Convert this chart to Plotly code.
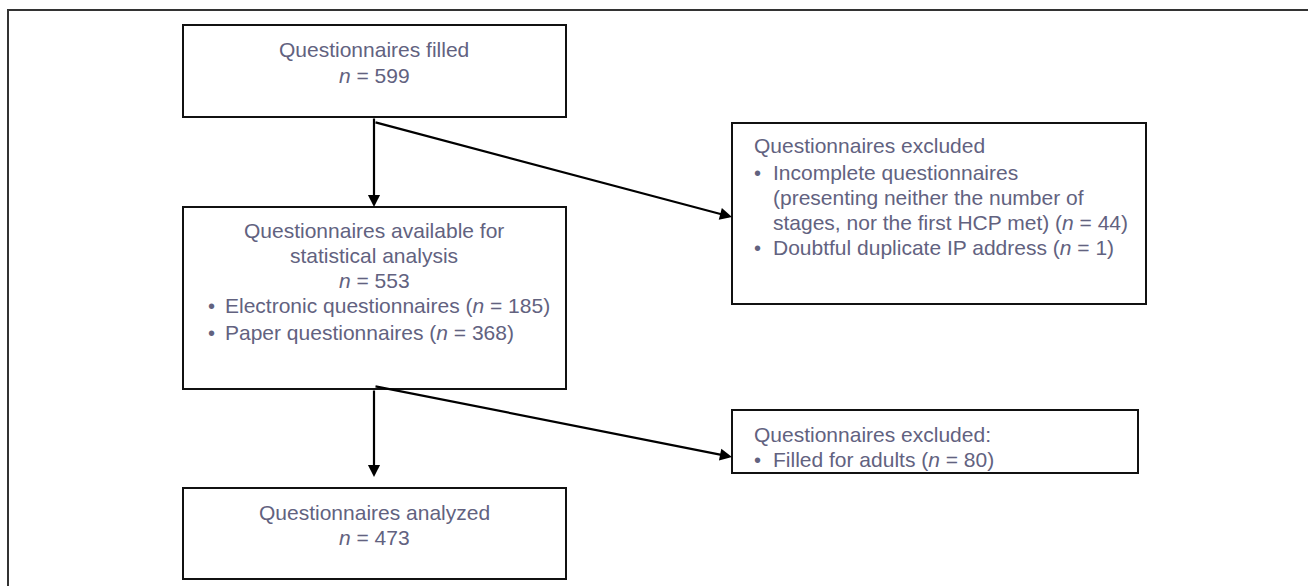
import plotly.graph_objects as go

# ---- data (counts shown in the flow diagram) ----
n_filled = 599
n_available = 553
n_electronic = 185
n_paper = 368
n_incomplete = 44
n_duplicate_ip = 1
n_adults = 80
n_analyzed = 473

W, H = 1308, 586
TXT = "#62627f"
LINE = "#111111"
FONT = "Liberation Sans, Arial, sans-serif"
FS = 21

fig = go.Figure()

# boxes: (x0, y0, x1, y1)
boxes = [
    (183, 25, 566, 117),
    (183, 207, 566, 389),
    (732, 123, 1146, 304),
    (732, 410, 1138, 473),
    (183, 488, 566, 579),
]
shapes = [dict(type="rect", xref="x", yref="y", x0=8, y0=10, x1=1330, y1=600,
               line=dict(color="#333333", width=2), fillcolor="rgba(0,0,0,0)")]
for x0, y0, x1, y1 in boxes:
    shapes.append(dict(type="rect", xref="x", yref="y", x0=x0, y0=y0, x1=x1, y1=y1,
                       line=dict(color=LINE, width=2), fillcolor="white"))

ann = []

def arrow(x0, y0, x1, y1):
    ann.append(dict(x=x1, y=y1, ax=x0, ay=y0, xref="x", yref="y", axref="x", ayref="y",
                    text="", showarrow=True, arrowhead=2, arrowsize=1.1, arrowwidth=2.2,
                    arrowcolor="black", standoff=0, startstandoff=0))

arrow(374, 117, 374, 207)
arrow(374, 122, 732, 217)
arrow(374, 389, 374, 477)
arrow(374, 386, 732, 457)

def text(x, y, s, anchor="center", size=FS):
    ann.append(dict(x=x, y=y, xref="x", yref="y", text=s, showarrow=False,
                    xanchor=anchor, yanchor="middle",
                    font=dict(family=FONT, size=size, color=TXT)))

def bullet(x, y):
    text(x, y + 1, "•", anchor="center", size=20)

nn = "<i>n</i>"
# box 1
text(374, 49, "Questionnaires filled")
text(374, 75, f"{nn} = {n_filled}")
# box 2
text(374, 230, "Questionnaires available for")
text(374, 255, "statistical analysis")
text(374, 280, f"{nn} = {n_available}")
bullet(211, 305)
text(223, 305, f"Electronic questionnaires ({nn} = {n_electronic})", anchor="left")
bullet(211, 332)
text(223, 332, f"Paper questionnaires ({nn} = {n_paper})", anchor="left")
# box 3
text(752, 145, "Questionnaires excluded", anchor="left")
bullet(757, 172)
text(771, 172, "Incomplete questionnaires", anchor="left")
text(771, 197, "(presenting neither the number of", anchor="left")
text(771, 222, f"stages, nor the first HCP met) ({nn} = {n_incomplete})", anchor="left")
bullet(757, 247)
text(771, 247, f"Doubtful duplicate IP address ({nn} = {n_duplicate_ip})", anchor="left")
# box 4
text(752, 434, "Questionnaires excluded:", anchor="left")
bullet(757, 459)
text(771, 459, f"Filled for adults ({nn} = {n_adults})", anchor="left")
# box 5
text(374, 512, "Questionnaires analyzed")
text(374, 537, f"{nn} = {n_analyzed}")

fig.update_layout(
    width=W, height=H, margin=dict(l=0, r=0, t=0, b=0),
    paper_bgcolor="white", plot_bgcolor="white",
    xaxis=dict(range=[0, W], visible=False, fixedrange=True),
    yaxis=dict(range=[H, 0], visible=False, fixedrange=True),
    shapes=shapes, annotations=ann, showlegend=False,
)

fig.write_html(
    "out.html",
    config={"displayModeBar": False, "staticPlot": True},
    post_script="document.body.style.margin='0';document.body.style.overflow='hidden';",
)
